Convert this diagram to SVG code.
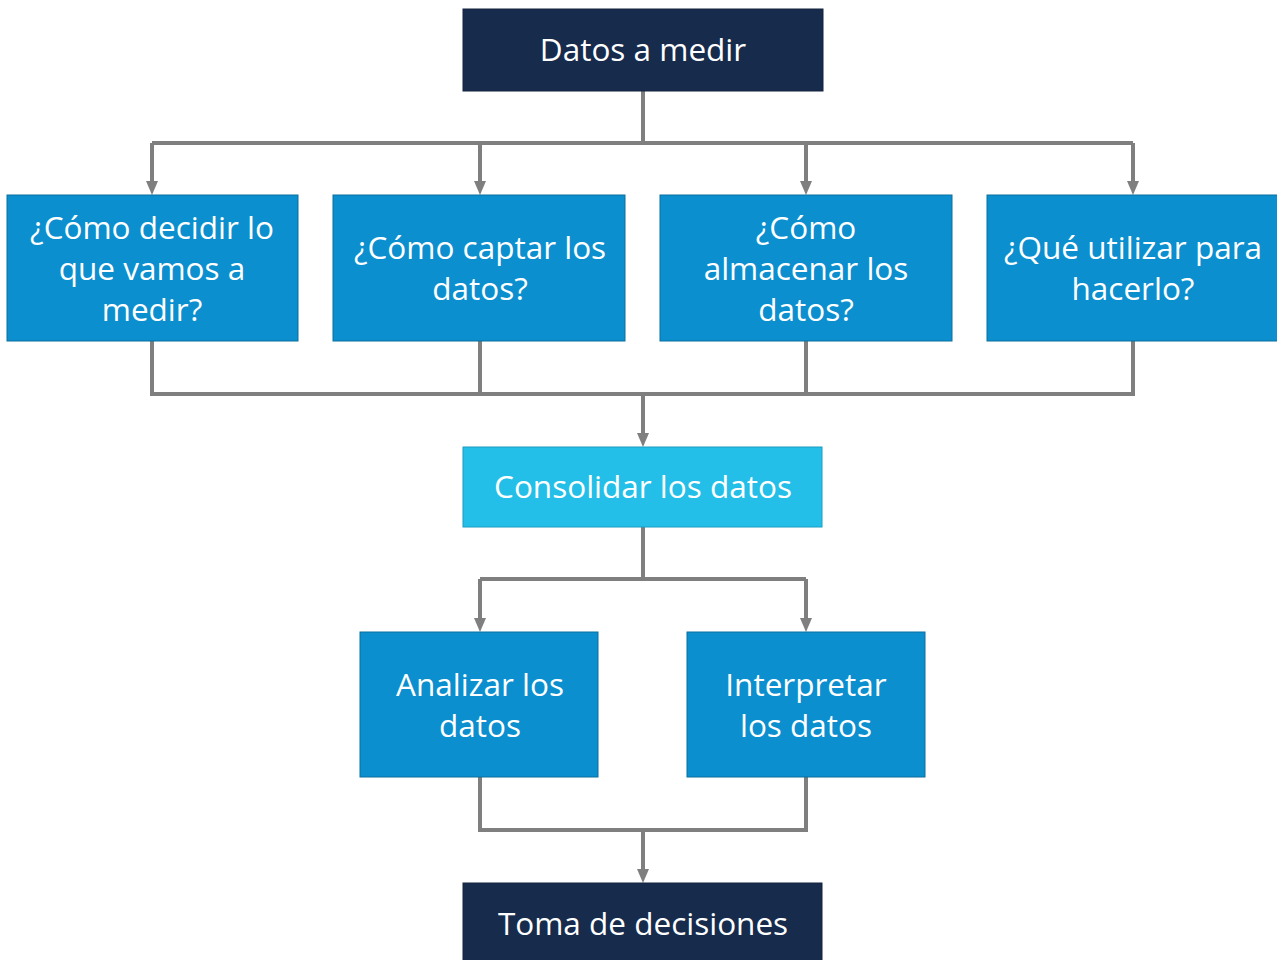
<svg xmlns="http://www.w3.org/2000/svg" width="1277" height="960" viewBox="0 0 1277 960">
<style>
.dark{fill:#172b4c;stroke:#14253f;stroke-width:1}
.mid{fill:#0b8fcf;stroke:#0a6f9e;stroke-width:1}
.light{fill:#24bfe8;stroke:#1a9cc0;stroke-width:1}
.t{fill:#ffffff;font-family:"Open Sans","DejaVu Sans",sans-serif;font-size:31.5px;text-anchor:middle}
.c{fill:none;stroke:#7f7f7f;stroke-width:4}
</style>
<defs>
<marker id="ah" viewBox="0 0 14 12" refX="5" refY="6" markerWidth="14" markerHeight="12" markerUnits="userSpaceOnUse" orient="auto">
<path d="M0,0 L14,6 L0,12 Z" fill="#7f7f7f"/>
</marker>
</defs>
<rect width="1277" height="960" fill="#ffffff"/>
<g id="connectors">
<path class="c" d="M643,91 V143 M152,143 H1133"/>
<path class="c" d="M152,143 V186" marker-end="url(#ah)"/>
<path class="c" d="M480,143 V186" marker-end="url(#ah)"/>
<path class="c" d="M806,143 V186" marker-end="url(#ah)"/>
<path class="c" d="M1133,143 V186" marker-end="url(#ah)"/>
<path class="c" d="M152,341 V394 H1133 V341 M480,341 V394 M806,341 V394"/>
<path class="c" d="M643,394 V438" marker-end="url(#ah)"/>
<path class="c" d="M643,527 V579 M480,579 H806"/>
<path class="c" d="M480,579 V623" marker-end="url(#ah)"/>
<path class="c" d="M806,579 V623" marker-end="url(#ah)"/>
<path class="c" d="M480,777 V830 H806 V777"/>
<path class="c" d="M643,830 V874" marker-end="url(#ah)"/>
</g>
<g id="n-datos">
<rect class="dark" x="463" y="9" width="360" height="82"/>
<text class="t" x="643" y="61">Datos a medir</text>
</g>
<g id="n-decidir">
<rect class="mid" x="7" y="195" width="291" height="146"/>
<text class="t" x="152" y="239">¿Cómo decidir lo</text>
<text class="t" x="152" y="280">que vamos a</text>
<text class="t" x="152" y="321">medir?</text>
</g>
<g id="n-captar">
<rect class="mid" x="333" y="195" width="292" height="146"/>
<text class="t" x="480" y="259">¿Cómo captar los</text>
<text class="t" x="480" y="300">datos?</text>
</g>
<g id="n-almacenar">
<rect class="mid" x="660" y="195" width="292" height="146"/>
<text class="t" x="806" y="239">¿Cómo</text>
<text class="t" x="806" y="280">almacenar los</text>
<text class="t" x="806" y="321">datos?</text>
</g>
<g id="n-utilizar">
<rect class="mid" x="987" y="195" width="292" height="146"/>
<text class="t" x="1133" y="259">¿Qué utilizar para</text>
<text class="t" x="1133" y="300">hacerlo?</text>
</g>
<g id="n-consolidar">
<rect class="light" x="463" y="447" width="359" height="80"/>
<text class="t" x="643" y="498">Consolidar los datos</text>
</g>
<g id="n-analizar">
<rect class="mid" x="360" y="632" width="238" height="145"/>
<text class="t" x="480" y="696">Analizar los</text>
<text class="t" x="480" y="737">datos</text>
</g>
<g id="n-interpretar">
<rect class="mid" x="687" y="632" width="238" height="145"/>
<text class="t" x="806" y="696">Interpretar</text>
<text class="t" x="806" y="737">los datos</text>
</g>
<g id="n-toma">
<rect class="dark" x="463" y="883" width="359" height="82"/>
<text class="t" x="643" y="935">Toma de decisiones</text>
</g>
</svg>
